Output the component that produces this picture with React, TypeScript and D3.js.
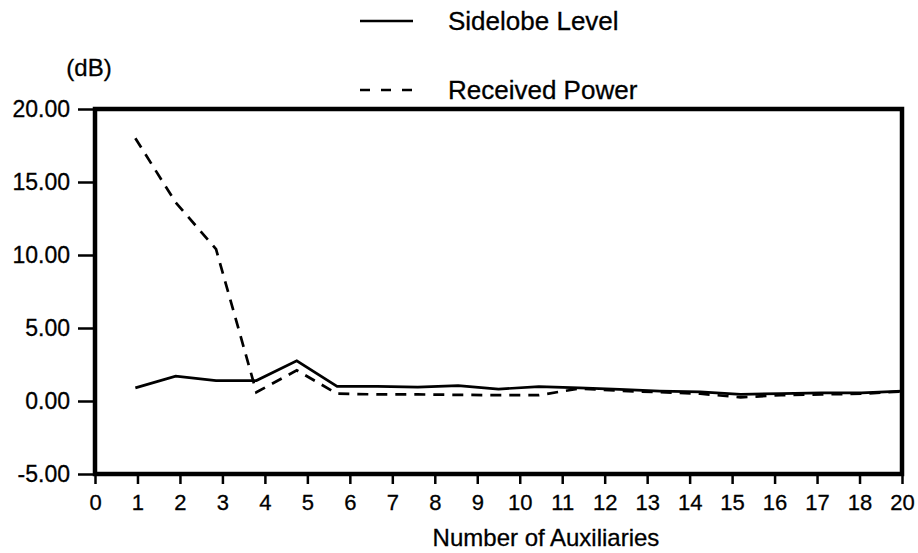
import React from 'react';
import { select, scaleLinear, scalePoint, line, axisLeft, axisBottom } from 'd3';

// number of auxiliaries (data positions)
const auxiliaries = [1, 2, 3, 4, 5, 6, 7, 8, 9, 10, 11, 12, 13, 14, 15, 16, 17, 18, 19, 20];
const sidelobeLevel = [0.9, 1.7, 1.4, 1.4, 2.75, 1.0, 1.0, 0.95, 1.05, 0.82, 0.98, 0.9, 0.8, 0.68, 0.62, 0.46, 0.5, 0.55, 0.55, 0.68];
const receivedPower = [18.0, 13.6, 10.4, 0.6, 2.1, 0.5, 0.45, 0.45, 0.42, 0.4, 0.4, 0.85, 0.7, 0.6, 0.5, 0.25, 0.4, 0.45, 0.5, 0.65];

const xTickLabels = ['0', '1', '2', '3', '4', '5', '6', '7', '8', '9', '10', '11', '12', '13', '14', '15', '16', '17', '18', '20'];
const yTicks = [-5, 0, 5, 10, 15, 20];

const W = 918;
const H = 553;
const left = 95;
const right = 902;
const top = 109;
const bottom = 474;
const font = '"Liberation Sans", Arial, Helvetica, sans-serif';

export default function App() {
  const svgRef = React.useRef<SVGSVGElement>(null);

  React.useEffect(() => {
    const svg = select(svgRef.current);
    svg.selectAll('*').remove();

    const x = scaleLinear().domain([0, 20]).range([left, right]);
    const y = scaleLinear().domain([-5, 20]).range([bottom, top]);
    // the printed tick labels are evenly spaced on their own
    const xLabels = scalePoint<string>().domain(xTickLabels).range([left, right]);

    const yAxis = axisLeft(y)
      .tickValues(yTicks)
      .tickSize(17)
      .tickPadding(8)
      .tickFormat(d => (d as number).toFixed(2));
    const gy = svg.append('g').attr('transform', `translate(${left},0)`).call(yAxis as any);
    gy.select('.domain').remove();
    gy.selectAll('line').attr('stroke', '#000').attr('stroke-width', 2.5);
    gy.selectAll('text')
      .attr('font-size', 23)
      .attr('font-family', font)
      .attr('fill', '#000')
      .attr('stroke', '#000')
      .attr('stroke-width', 0.3);

    const xAxis = axisBottom(xLabels).tickSize(10).tickPadding(10);
    const gx = svg.append('g').attr('transform', `translate(0,${bottom})`).call(xAxis as any);
    gx.select('.domain').remove();
    gx.selectAll('line').attr('stroke', '#000').attr('stroke-width', 2.5);
    gx.selectAll('text')
      .attr('font-size', 22)
      .attr('font-family', font)
      .attr('fill', '#000')
      .attr('stroke', '#000')
      .attr('stroke-width', 0.3);

    svg
      .append('rect')
      .attr('x', left)
      .attr('y', top)
      .attr('width', right - left)
      .attr('height', bottom - top)
      .attr('fill', 'none')
      .attr('stroke', '#000')
      .attr('stroke-width', 4.5);

    const gen = line<number>()
      .x((_, i) => x(auxiliaries[i]))
      .y(d => y(d));

    svg
      .append('path')
      .attr('d', gen(sidelobeLevel))
      .attr('fill', 'none')
      .attr('stroke', '#000')
      .attr('stroke-width', 2.7);

    svg
      .append('path')
      .attr('d', gen(receivedPower))
      .attr('fill', 'none')
      .attr('stroke', '#000')
      .attr('stroke-width', 2.7)
      .attr('stroke-dasharray', '11 8');

    // legend
    const legend = [
      { label: 'Sidelobe Level', dash: null, y: 21 },
      { label: 'Received Power', dash: '10 11', y: 90 },
    ];
    legend.forEach(l => {
      svg
        .append('line')
        .attr('x1', 360)
        .attr('x2', 413)
        .attr('y1', l.y)
        .attr('y2', l.y)
        .attr('stroke', '#000')
        .attr('stroke-width', 2.5)
        .attr('stroke-dasharray', l.dash);
      svg
        .append('text')
        .attr('x', 448)
        .attr('y', l.y + 9)
        .attr('font-size', 26)
        .attr('font-family', font)
        .attr('stroke', '#000')
        .attr('stroke-width', 0.3)
        .text(l.label);
    });

    svg
      .append('text')
      .attr('x', 89)
      .attr('y', 76)
      .attr('text-anchor', 'middle')
      .attr('font-size', 24)
      .attr('font-family', font)
      .attr('stroke', '#000')
      .attr('stroke-width', 0.3)
      .text('(dB)');

    svg
      .append('text')
      .attr('x', 546)
      .attr('y', 546)
      .attr('text-anchor', 'middle')
      .attr('font-size', 24)
      .attr('font-family', font)
      .attr('stroke', '#000')
      .attr('stroke-width', 0.3)
      .text('Number of Auxiliaries');
  }, []);

  return (
    <svg
      ref={svgRef}
      width={W}
      height={H}
      style={{ position: 'absolute', left: 0, top: 0, background: '#fff' }}
    />
  );
}
